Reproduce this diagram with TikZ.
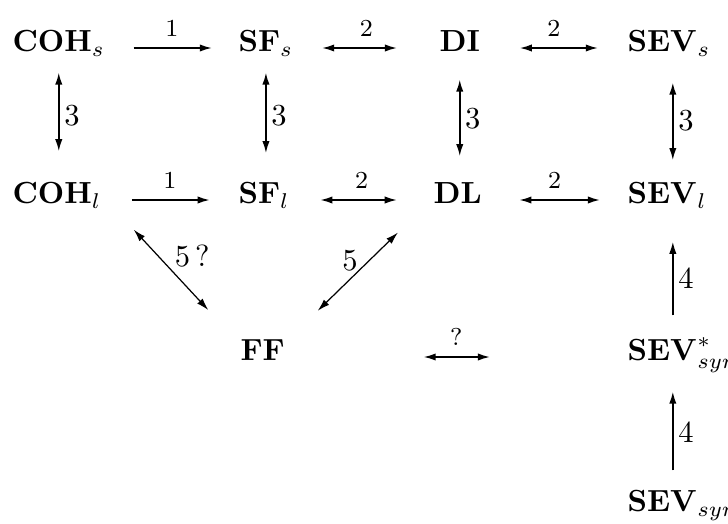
\documentclass[tikz,border=0pt]{standalone}
\usepackage{amsmath}
\usetikzlibrary{arrows.meta}

\begin{document}
\begin{tikzpicture}[x=0.0115cm,y=-0.0115cm,
  obj/.style={anchor=west,inner sep=0pt,text height=0.7em,text depth=0.44em},
  arr/.style={-{Latex[length=4pt,width=2.4pt]},line width=.6pt},
  darr/.style={{Latex[length=4pt,width=2.4pt]}-{Latex[length=4pt,width=2.4pt]},line width=.6pt},
  diag/.style={darr,line width=.4pt},
  gap/.style 2 args={shorten <=#1,shorten >=#2},
  over/.style={above=0pt,font=\footnotesize},
  side/.style={right,inner sep=1.5pt}]
  \useasboundingbox (0,0) rectangle (728,524);
  \node[obj] (cohs) at (12,48) {$\mathbf{COH}_s$};
  \node[obj] (sfs) at (238,48) {$\mathbf{SF}_s$};
  \node[obj] (di) at (439,48) {$\mathbf{DI}$};
  \node[obj] (sevs) at (627,48) {$\mathbf{SEV}_s$};
  \node[obj] (cohl) at (12,200) {$\mathbf{COH}_l$};
  \node[obj] (sfl) at (238,200) {$\mathbf{SF}_l$};
  \node[obj] (dl) at (433,200) {$\mathbf{DL}$};
  \node[obj] (sevl) at (627,200) {$\mathbf{SEV}_l$};
  \node[obj] (ff) at (240,357) {$\mathbf{FF}$};
  \node[obj] (sevstar) at (627,357) {$\mathbf{SEV}^*_{syn}$};
  \node[obj] (sevsyn) at (627,508) {$\mathbf{SEV}_{syn}$};
  % rows
  \draw[arr,gap={9.2pt}{8.5pt}] (cohs) -- node[over]{$1$} (sfs);
  \draw[darr,gap={9.2pt}{13.7pt}] (sfs) -- node[over]{$2$} (di);
  \draw[darr,gap={12.8pt}{9.5pt}] (di) -- node[over]{$2$} (sevs);
  \draw[arr,gap={9.8pt}{9.2pt}] (cohl) -- node[over]{$1$} (sfl);
  \draw[darr,gap={9.8pt}{11.8pt}] (sfl) -- node[over]{$2$} (dl);
  \draw[darr,gap={12.1pt}{8.8pt}] (dl) -- node[over]{$2$} (sevl);
  \draw[darr,gap={45.2pt}{44.8pt}] (ff) -- node[over]{$?$} (sevstar);
  % columns
  \draw[darr,gap={2.1pt}{10pt}] (cohs.south) -- node[side,pos=.43]{$3$} (cohs.south |- cohl.north);
  \draw[darr,gap={2.1pt}{9.4pt}] (sfs.south) -- node[side,pos=.43]{$3$} (sfs.south |- sfl.north);
  \draw[darr,gap={4.4pt}{8.4pt}] (di.south) -- node[side,pos=.45]{$3$} (di.south |- dl.north);
  \draw[darr,gap={5.4pt}{7.1pt}] ([xshift=15pt]sevs.south west) -- node[side,pos=.47]{$3$} ([xshift=15pt]sevl.north west);
  \draw[arr,gap={7.7pt}{7.7pt}] ([xshift=15pt]sevstar.north west) -- node[side]{$4$} ([xshift=15pt]sevl.south west);
  \draw[arr,gap={6.4pt}{5.4pt}] ([xshift=15pt]sevsyn.north west) -- node[side]{$4$} ([xshift=15pt]sevstar.south west);
  % diagonals
  \draw[diag,gap={5.2pt}{12.9pt}] ([xshift=6.9pt]cohl.south east) -- node[pos=.43,above right,inner sep=1pt]{$5\,?$} ([xshift=-1.6pt]ff.north west);
  \draw[diag,gap={6.8pt}{13.2pt}] ([xshift=-6.6pt]dl.south west) -- node[pos=.44,above left,inner sep=0pt]{$5$} ([xshift=1.1pt]ff.north east);
\end{tikzpicture}
\end{document}
